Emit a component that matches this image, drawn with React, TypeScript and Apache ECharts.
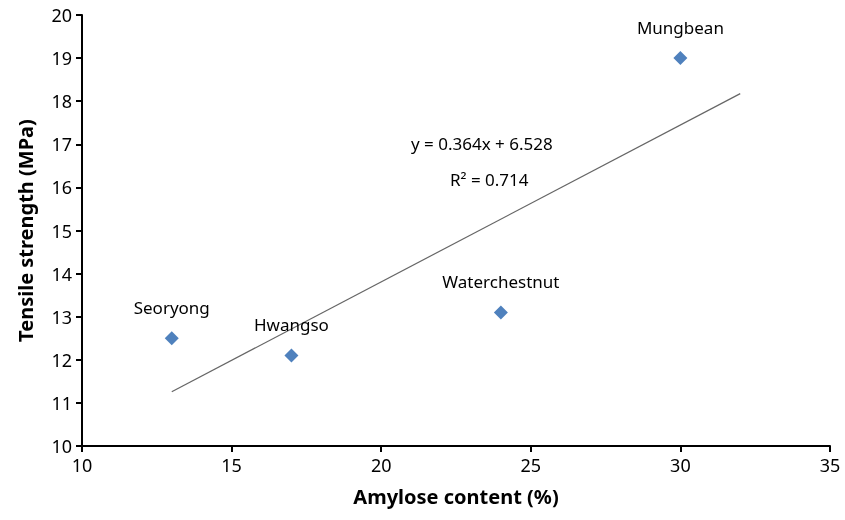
import React, { useEffect, useRef } from "react";
import * as echarts from "echarts";

const varieties = ["Seoryong", "Hwangso", "Waterchestnut", "Mungbean"];
const amylose = [13, 17, 24, 30];
const tensile = [12.5, 12.1, 13.1, 19.0];
const slope = 0.364;
const intercept = 6.528;
const trendX = [13, 32];
const equationText = "y = 0.364x + 6.528";
const r2Text = "R² = 0.714";

const FONT = "'Noto Sans', 'Open Sans', sans-serif";

export default function App() {
  const ref = useRef<HTMLDivElement>(null);
  useEffect(() => {
    if (!ref.current) return;
    const chart = echarts.init(ref.current, undefined, { renderer: "svg" });
    const points = amylose.map((x, i) => ({ value: [x, tensile[i]], name: varieties[i] }));
    const trend = trendX.map((x) => [x, slope * x + intercept]);
    chart.setOption({
      animation: false,
      textStyle: { fontFamily: FONT },
      grid: { left: 82, right: 15, top: 15, bottom: 74 },
      xAxis: {
        type: "value",
        min: 10,
        max: 35,
        interval: 5,
        name: "Amylose content (%)",
        nameLocation: "middle",
        nameGap: 40,
        nameTextStyle: { fontSize: 20, fontWeight: "bold", color: "#000", fontFamily: FONT },
        axisLine: { lineStyle: { color: "#000", width: 2 } },
        axisTick: { show: true, length: 6, lineStyle: { color: "#000", width: 2 } },
        axisLabel: { fontSize: 18, color: "#000", margin: 10, fontFamily: FONT },
        splitLine: { show: false },
      },
      yAxis: {
        type: "value",
        min: 10,
        max: 20,
        interval: 1,
        name: "Tensile strength (MPa)",
        nameLocation: "middle",
        nameGap: 47,
        nameRotate: 90,
        nameTextStyle: { fontSize: 20, fontWeight: "bold", color: "#000", fontFamily: FONT },
        axisLine: { show: true, lineStyle: { color: "#000", width: 2 } },
        axisTick: { show: true, length: 6, lineStyle: { color: "#000", width: 2 } },
        axisLabel: { fontSize: 18, color: "#000", margin: 10, fontFamily: FONT },
        splitLine: { show: false },
      },
      series: [
        {
          type: "line",
          data: trend,
          symbol: "none",
          lineStyle: { color: "#666", width: 1.2 },
          silent: true,
          z: 1,
        },
        {
          type: "scatter",
          data: points,
          symbol: "diamond",
          symbolSize: 14,
          itemStyle: { color: "#4F81BD", opacity: 1 },
          label: {
            show: true,
            position: "top",
            distance: 15,
            formatter: (p: any) => p.name,
            fontSize: 17,
            color: "#000",
            opacity: 1,
            fontFamily: FONT,
          },
          z: 3,
        },
      ],
      graphic: [
        {
          type: "text",
          left: 411,
          top: 135,
          style: { text: equationText, fontSize: 17, fill: "#000", fontFamily: FONT },
        },
        {
          type: "text",
          left: 450,
          top: 171,
          style: { text: r2Text, fontSize: 17, fill: "#000", fontFamily: FONT },
        },
      ],
    });
    return () => chart.dispose();
  }, []);
  return (
    <div
      ref={ref}
      style={{ position: "fixed", left: 0, top: 0, width: 845, height: 520 }}
    />
  );
}
